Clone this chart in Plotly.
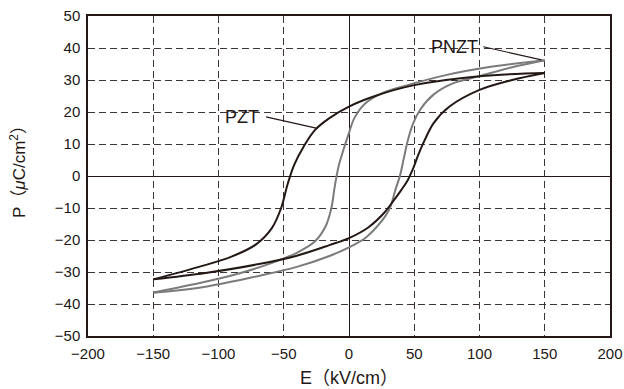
import plotly.graph_objects as go

# ---- data ----
# PZT: descending (upper) branch from +150 to -150
pzt_down_E = [150, 100, 50, 20, 0, -15, -26, -35, -42, -47, -52, -59, -71, -90, -115, -150]
pzt_down_P = [32.2, 31.2, 28.4, 25.0, 21.7, 18.1, 14.4, 9.0, 3.5, -2.5, -10.0, -16.2, -21.3, -25.2, -28.4, -32.3]
# PZT: ascending (lower) branch from -150 to +150
pzt_up_E = [-150, -110, -70, -40, -15, 0, 15, 27, 34, 40, 45, 49, 53, 58, 65, 77, 100, 125, 150]
pzt_up_P = [-32.3, -30.3, -27.6, -24.9, -21.6, -19.4, -16.0, -11.5, -7.8, -4.4, -1.3, 2.2, 6.5, 11.2, 16.6, 21.7, 26.9, 30.0, 32.2]

# PNZT: descending (upper) branch
pnzt_down_E = [150, 110, 75, 45, 25, 12, 4, 0, -4, -8, -11, -13.5, -18, -26, -40, -60, -90, -120, -150]
pnzt_down_P = [36.2, 34.2, 31.6, 28.4, 25.8, 22.5, 18.0, 13.5, 8.5, 3.0, -3.5, -10.0, -15.8, -20.4, -24.0, -27.3, -31.1, -33.9, -36.4]
# PNZT: ascending (lower) branch
pnzt_up_E = [-150, -110, -70, -40, -15, 0, 13, 24, 31, 35.5, 39, 42, 45, 49, 55, 65, 80, 100, 125, 150]
pnzt_up_P = [-36.5, -34.6, -31.3, -28.4, -25.0, -22.3, -19.2, -14.6, -10.3, -4.4, 0.0, 5.5, 11.0, 16.3, 21.0, 25.5, 29.0, 31.2, 34.0, 36.2]

x_ticks = [-200, -150, -100, -50, 0, 50, 100, 150, 200]
y_ticks = [-50, -40, -30, -20, -10, 0, 10, 20, 30, 40, 50]

BLACK = "#231815"
GREY = "#7b7b7b"
GRID = "#3d3535"
FONT = "Liberation Sans, Arial, Noto Sans CJK JP, sans-serif"

fig = go.Figure()
for E, P, c in [(pnzt_down_E, pnzt_down_P, GREY), (pnzt_up_E, pnzt_up_P, GREY),
                (pzt_down_E, pzt_down_P, BLACK), (pzt_up_E, pzt_up_P, BLACK)]:
    fig.add_trace(go.Scatter(x=E, y=P, mode="lines",
                             line=dict(color=c, width=2, shape="spline", smoothing=1.0),
                             showlegend=False, hoverinfo="skip"))

# leader lines for labels
fig.add_shape(type="line", xref="x", yref="y", x0=-63.6, y0=18.5, x1=-24.3, y1=14.9,
              line=dict(color=BLACK, width=1.2))
fig.add_shape(type="line", xref="x", yref="y", x0=102.9, y0=40.4, x1=147.5, y1=36.3,
              line=dict(color=BLACK, width=1.2))

fig.add_annotation(x=-82, y=18.5, xref="x", yref="y", text="PZT", showarrow=False,
                   font=dict(size=18, color=BLACK, family=FONT))
fig.add_annotation(x=81, y=40.4, xref="x", yref="y", text="PNZT", showarrow=False,
                   font=dict(size=18, color=BLACK, family=FONT))

# axis titles
fig.add_annotation(x=0.5, y=0, xref="paper", yref="paper", yshift=-42, yanchor="middle",
                   text="E（kV/cm）", showarrow=False,
                   font=dict(size=18, color=BLACK, family=FONT))
fig.add_annotation(x=0, y=0.5, xref="paper", yref="paper", xshift=-70, yshift=8, xanchor="center",
                   text="P（<i>μ</i>C/cm<sup>2</sup>）", textangle=-90, showarrow=False,
                   font=dict(size=17, color=BLACK, family=FONT))

axis_common = dict(
    showgrid=True, gridcolor=GRID, gridwidth=1, griddash="7px,4px",
    zeroline=True, zerolinecolor=BLACK, zerolinewidth=1.2,
    showline=True, linecolor=BLACK, linewidth=1.5, mirror=True,
    ticks="outside", ticklen=3, tickcolor="rgba(0,0,0,0)",
    tickfont=dict(size=15, color=BLACK, family=FONT),
    automargin=False,
)
fig.update_xaxes(range=[-200, 200], tickvals=x_ticks, **axis_common)
fig.update_yaxes(range=[-50, 50], tickvals=y_ticks, **axis_common)

fig.update_layout(
    width=624, height=389,
    margin=dict(l=88, r=14, t=16, b=53),
    paper_bgcolor="white", plot_bgcolor="white",
    font=dict(family=FONT, color=BLACK),
)

fig.write_html("out.html", config={"displayModeBar": False},
               post_script="document.body.style.margin='0';document.body.style.overflow='hidden';")
